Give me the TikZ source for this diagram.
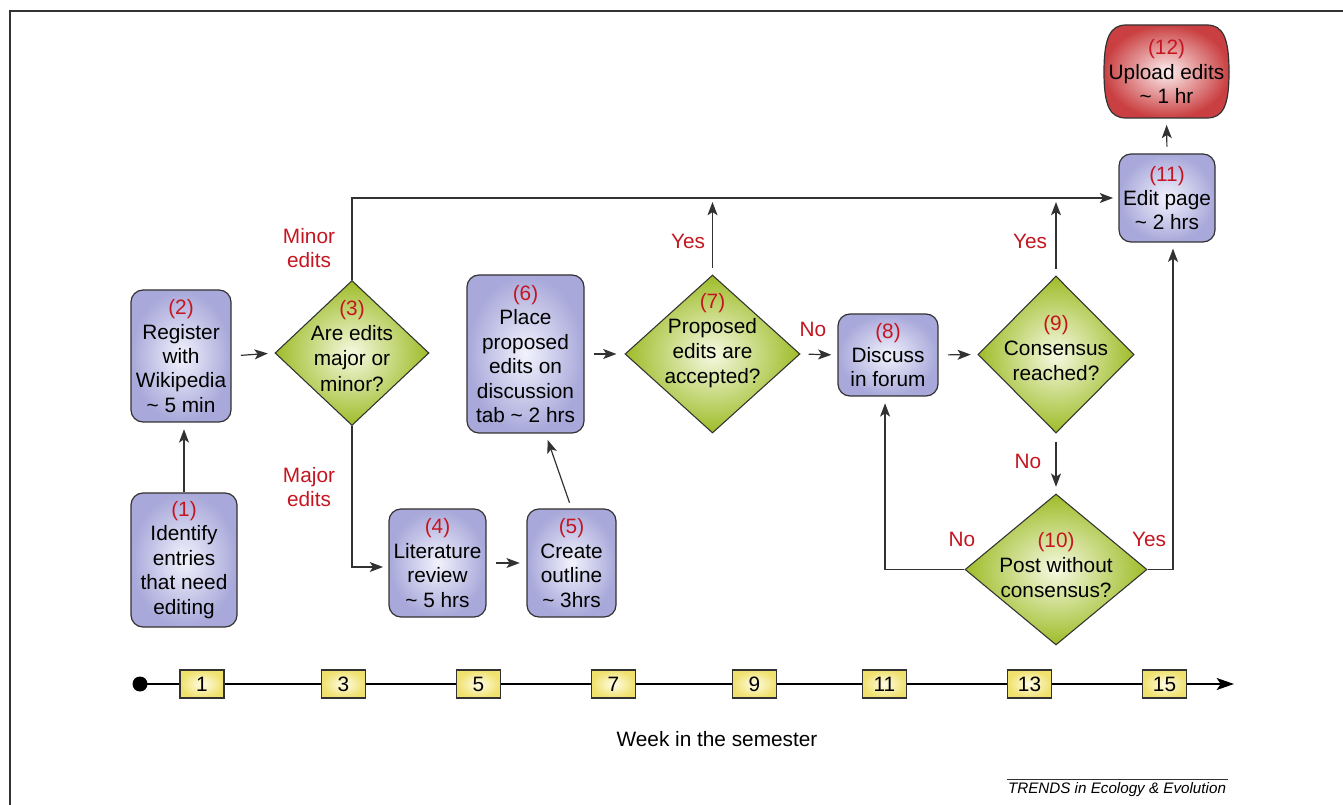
\documentclass[tikz,border=0pt]{standalone}
\usepackage{fontspec}
\setmainfont{Liberation Sans}
\usetikzlibrary{shapes.geometric,arrows.meta,calc}
\definecolor{boxin}{RGB}{242,242,253}
\definecolor{boxout}{RGB}{168,168,218}
\definecolor{diain}{RGB}{246,249,226}
\definecolor{diaout}{RGB}{158,188,40}
\definecolor{redin}{RGB}{253,238,238}
\definecolor{redout}{RGB}{202,64,66}
\definecolor{yelin}{RGB}{255,253,230}
\definecolor{yelout}{RGB}{240,224,108}
\definecolor{numred}{RGB}{196,22,32}
\definecolor{edgec}{RGB}{50,50,50}
\newcommand\pxu{0.75pt}
\newcommand\fs{\fontsize{15.6pt}{18.3pt}\selectfont}
\newcommand\fsd{\fontsize{15.6pt}{18.8pt}\selectfont}
\newcommand\nr[1]{{\color{numred}(#1)}}
\tikzset{
  pbox/.style={draw=edgec, line width=0.9pt, rounded corners=9pt, inner color=boxin, outer color=boxout, align=center, inner sep=0pt, font=\fs},
  dia/.style={diamond, draw=edgec, line width=0.8pt, inner color=diain, outer color=diaout, inner sep=0pt},
  dtxt/.style={align=center, font=\fsd, inner sep=0pt},
  lab/.style={align=center, font=\fs, text=numred, inner sep=0pt},
  arr/.style={draw=edgec, line width=0.9pt, -{Stealth[length=10pt,width=7.5pt,inset=2.5pt]}},
  wk/.style={draw=edgec, line width=0.8pt, inner color=yelin, outer color=yelout, minimum width=44*\pxu, minimum height=28*\pxu, inner sep=0pt, font=\fs}
}
\begin{document}
\begin{tikzpicture}[x=0.75pt,y=-0.75pt]
\useasboundingbox (0,0) rectangle (1343,805);
% frame
\draw[line width=1.5pt, edgec] (1343,11) -- (10,11) -- (10,805);

% boxes
\node[pbox, minimum width=106*\pxu, minimum height=134*\pxu] (n1) at (184,560) {\nr{1}\\Identify\\entries\\that need\\editing};
\node[pbox, minimum width=100*\pxu, minimum height=132*\pxu] (n2) at (181,356) {\nr{2}\\Register\\with\\Wikipedia\\\textasciitilde\ 5 min};
\node[pbox, minimum width=97*\pxu, minimum height=108*\pxu] (n4) at (437.5,563) {\nr{4}\\Literature\\review\\\textasciitilde\ 5 hrs};
\node[pbox, minimum width=89*\pxu, minimum height=108*\pxu] (n5) at (571.5,563) {\nr{5}\\Create\\outline\\\textasciitilde\ 3hrs};
\node[pbox, minimum width=117*\pxu, minimum height=158*\pxu] (n6) at (525.5,354) {\nr{6}\\Place\\proposed\\edits on\\discussion\\tab \textasciitilde\ 2 hrs};
\node[pbox, minimum width=100*\pxu, minimum height=82*\pxu] (n8) at (888,355) {\nr{8}\\Discuss\\in forum};
\node[pbox, minimum width=96*\pxu, minimum height=88*\pxu] (n11) at (1167,198) {\nr{11}\\Edit page\\\textasciitilde\ 2 hrs};

% node 12 (barrel)
\path[draw=edgec, line width=0.9pt, inner color=redin, outer color=redout]
  (1126,25) -- (1207,25) .. controls (1223,25) and (1229,38) .. (1229,72)
  .. controls (1229,106) and (1223,118) .. (1207,118) -- (1126,118)
  .. controls (1110,118) and (1104,106) .. (1104,72)
  .. controls (1104,38) and (1110,25) .. (1126,25) -- cycle;
\node[align=center, font=\fs, inner sep=0pt, minimum width=125*\pxu, minimum height=93*\pxu] (n12) at (1166.5,71.5) {\nr{12}\\Upload edits\\\textasciitilde\ 1 hr};

% diamonds
\node[dia, minimum width=154*\pxu, minimum height=145*\pxu] (d3) at (352,353) {};
\node[dtxt] (t3) at (352,346) {\nr{3}\\Are edits\\major or\\minor?};
\node[dia, minimum width=175*\pxu, minimum height=158*\pxu] (d7) at (712.5,354) {};
\node[dtxt] (t7) at (712.5,341) {\nr{7}\\Proposed\\edits are\\accepted?};
\node[dia, minimum width=156*\pxu, minimum height=157*\pxu] (d9) at (1056,354.5) {};
\node[dtxt] (t9) at (1056,348) {\nr{9}\\Consensus\\reached?};
\node[dia, minimum width=182*\pxu, minimum height=151*\pxu] (d10) at (1056,569.5) {};
\node[dtxt] (t10) at (1056,565) {\nr{10}\\Post without\\consensus?};

% free ends
\coordinate (y7) at (712.5,202);
\coordinate (y9) at (1056,202);

% connectors
\draw[arr, shorten >=5pt] (n1.north) -- (n1.north |- n2.south);
\draw[arr, shorten <=7pt, shorten >=5pt] (n2.east) -- (d3.west);
\draw[arr, shorten >=4pt] (d3.north) |- (n11.west);
\draw[arr, shorten >=4pt] (d3.south) |- ([yshift=-3pt]n4.west);
\draw[arr, shorten <=7pt, shorten >=5pt] (n4.east) -- (n5.west);
\draw[arr, shorten <=4.5pt, shorten >=5pt] (n5.north) -- ([xshift=15pt]n6.south);
\draw[arr, shorten <=7pt, shorten >=6pt] (n6.east) -- (d7.west);
\draw[arr, shorten <=5pt] (d7.north) -- (y7);
\draw[arr, shorten <=6pt, shorten >=4.5pt] (d7.east) -- (n8.west);
\draw[arr, shorten <=7pt, shorten >=5pt] (n8.east) -- (d9.west);
\draw[arr, shorten <=5pt] (d9.north) -- (y9);
\draw[arr, shorten <=6pt, shorten >=5pt] (d9.south) -- (d10.north);
\draw[arr, shorten >=5pt] (d10.west) -| ([xshift=-2.2pt]n8.south);
\draw[arr, shorten >=4.5pt] (d10.east) -| ([xshift=4.5pt]n11.south);
\draw[arr, shorten <=5pt, shorten >=5pt] (n11.north) -- (n12.south);

% labels
\node[lab] (lminor) at (309,248) {Minor\\edits};
\node[lab] (lmajor) at (309,487) {Major\\edits};
\node[lab] (lyes7) at (688,241) {Yes};
\node[lab] (lno7) at (813,329) {No};
\node[lab] (lyes9) at (1030,241) {Yes};
\node[lab] (lno9) at (1028,461) {No};
\node[lab] (lno10) at (962,539) {No};
\node[lab] (lyes10) at (1149,539) {Yes};

% timeline
\node[circle, fill=black, inner sep=0pt, minimum size=15*\pxu] (dot) at (140,684) {};
\coordinate (tend) at (1234,684);
\draw[arr, line width=1.2pt, draw=black, -{Stealth[length=13pt,width=9pt,inset=3pt]}] (dot.center) -- (tend);
\node[wk] (w1) at (202,684) {1};
\node[wk] (w3) at (343.5,684) {3};
\node[wk] (w5) at (478.5,684) {5};
\node[wk] (w7) at (613.5,684) {7};
\node[wk] (w9) at (754.5,684) {9};
\node[wk] (w11) at (884.5,684) {11};
\node[wk] (w13) at (1029.5,684) {13};
\node[wk] (w15) at (1164.5,684) {15};
\node[font=\fs, inner sep=0pt] (week) at (717,739) {Week in the semester};

% credit
\node[font=\fontsize{11.4pt}{13pt}\selectfont\itshape, inner sep=0pt] (credit) at (1117,790) {TRENDS in Ecology \& Evolution};
\draw[line width=0.5pt, edgec] (1007,779) -- (1228,779);
\end{tikzpicture}
\end{document}
